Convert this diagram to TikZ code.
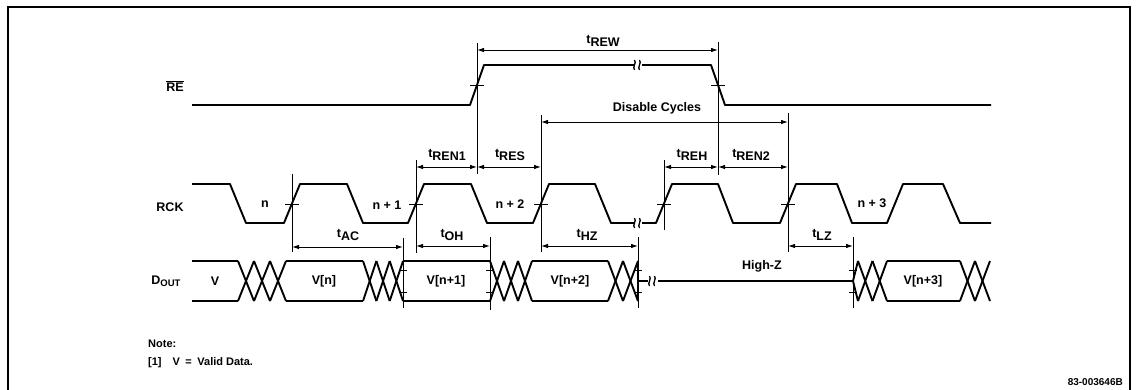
\documentclass[tikz,border=0pt]{standalone}
\usepackage{fontspec}
\setmainfont{Liberation Sans}
\usetikzlibrary{arrows.meta}
\newcommand{\tsub}[1]{t\raisebox{-0.35ex}{#1}}

\begin{document}
\begin{tikzpicture}[
  x=1pt, y=-1pt,
  sig/.style={line width=1.9pt, line join=round},
  ref/.style={line width=0.9pt},
  dim/.style={line width=0.9pt, {Latex[length=7pt,width=4.5pt]}-{Latex[length=7pt,width=4.5pt]}},
  lbl/.style={font=\fontsize{12.5}{14}\selectfont\bfseries, inner sep=0pt},
  note/.style={font=\fontsize{11}{13}\selectfont\bfseries, inner sep=0pt, anchor=west},
  brk/.pic={
    \draw[line width=1.3pt] (-3.5,-5) .. controls (-1,-2) and (-6,2) .. (-3.5,5);
    \draw[line width=1.3pt] (1.5,-5) .. controls (4,-2) and (-1,2) .. (1.5,5);
  }
]
  \useasboundingbox (0,0) rectangle (1136,390);

  % frame
  \draw[line width=1.2pt] (8,390) -- (8,7) -- (1130,7) -- (1130,390);

  % signal names
  \node[lbl] (re) at (175,86) {$\overline{\mbox{RE}}$};
  \node[lbl] (rck) at (170,207) {RCK};
  \node[lbl] (dout) at (166,281) {D\raisebox{-0.3ex}{\fontsize{9.5}{10}\selectfont OUT}};

  % RE waveform
  \draw[sig] (192,105) -- (470,105) -- (484,65) -- (634,65);
  \draw[sig] (642,65) -- (711,65) -- (725,105) -- (991,105);
  \pic at (638,65) {brk};

  % RCK waveform
  \draw[sig] (192,184) -- (230,184) -- (246,223) -- (284,223) -- (300,184)
    -- (347,184) -- (363,223) -- (408,223) -- (424,184) -- (471,184)
    -- (487,223) -- (533,223) -- (549,184) -- (595,184) -- (611,223) -- (634,223);
  \draw[sig] (642,223) -- (656,223) -- (672,184) -- (718,184) -- (733,223)
    -- (780,223) -- (796,184) -- (837,184) -- (852,223) -- (887,223)
    -- (903,184) -- (943,184) -- (960,223) -- (991,223);
  \pic at (638,223) {brk};

  % DOUT valid windows
  \foreach \xa/\xb in {192/238, 286/363, 403/490, 532/608, 887/960} {
    \draw[sig] (\xa,261) -- (\xb,261);
    \draw[sig] (\xa,301) -- (\xb,301);
  }
  % DOUT transitions
  \foreach \xa/\xb/\nx in {238/286/3, 363/403/3, 490/532/3, 608/638/2, 858/887/2, 960/990/2} {
    \pgfmathsetmacro\wx{(\xb-\xa)/\nx}
    \foreach \k in {1,...,\nx} {
      \draw[sig] ({\xa+(\k-1)*\wx},261) -- ({\xa+\k*\wx},301);
      \draw[sig] ({\xa+(\k-1)*\wx},301) -- ({\xa+\k*\wx},261);
    }
  }
  \draw[sig] (638,261) -- (638,301);
  \draw[sig] (638,281) -- (648,281);
  \pic at (653,281) {brk};
  \draw[sig] (658,281) -- (853,281);
  \draw[sig] (858,261) -- (853,281) -- (858,301);

  % reference lines
  \foreach \x/\ya/\yb in {477/43/174, 718/42/175, 292/174/252, 416/160/253,
      541/115/252, 664/160/230, 788/113/252, 403/238/308, 490/237/310,
      638/237/308, 853/237/308}
    \draw[ref] (\x,\ya) -- (\x,\yb);

  % crossing ticks
  \foreach \x/\y in {477/85, 718/85, 292/204, 416/204, 541/204, 664/204, 788/204}
    \draw[ref] (\x-7,\y) -- (\x+7,\y);
  \foreach \x in {403, 490, 638, 853} {
    \draw[ref] (\x-4,270) -- (\x+4,270);
    \draw[ref] (\x-4,292) -- (\x+4,292);
  }

  % timing arrows
  \coordinate (rew1) at (477,50);  \coordinate (rew2) at (718,50);
  \coordinate (dis1) at (541,122); \coordinate (dis2) at (788,122);
  \coordinate (ren1a) at (416,167); \coordinate (ren1b) at (477,167);
  \coordinate (res2) at (541,167);
  \coordinate (reh1) at (664,167); \coordinate (reh2) at (718,167);
  \coordinate (ren2b) at (788,167);
  \coordinate (ac1) at (292,247);  \coordinate (ac2) at (403,247);
  \coordinate (oh1) at (416,246);  \coordinate (oh2) at (490,246);
  \coordinate (hz1) at (541,246);  \coordinate (hz2) at (638,246);
  \coordinate (lz1) at (788,246);  \coordinate (lz2) at (853,246);

  \draw[dim] (rew1) -- (rew2);
  \draw[dim] (dis1) -- (dis2);
  \draw[dim] (ren1a) -- (ren1b);
  \draw[dim] (ren1b) -- (res2);
  \draw[dim] (reh1) -- (reh2);
  \draw[dim] (reh2) -- (ren2b);
  \draw[dim] (ac1) -- (ac2);
  \draw[dim] (oh1) -- (oh2);
  \draw[dim] (hz1) -- (hz2);
  \draw[dim] (lz1) -- (lz2);

  % timing labels
  \node[lbl] (trew) at (603,41) {\tsub{REW}};
  \node[lbl] (tdis) at (657,108) {Disable Cycles};
  \node[lbl] (tren1) at (447,155) {\tsub{REN1}};
  \node[lbl] (tres) at (510,155) {\tsub{RES}};
  \node[lbl] (treh) at (692,155) {\tsub{REH}};
  \node[lbl] (tren2) at (751,155) {\tsub{REN2}};
  \node[lbl] (tac) at (348,235) {\tsub{AC}};
  \node[lbl] (toh) at (452,235) {\tsub{OH}};
  \node[lbl] (thz) at (587,235) {\tsub{HZ}};
  \node[lbl] (tlz) at (822,235) {\tsub{LZ}};

  % cycle labels
  \node[lbl] (cn) at (265,204) {n};
  \node[lbl] (cn1) at (387,205) {n + 1};
  \node[lbl] (cn2) at (510,204) {n + 2};
  \node[lbl] (cn3) at (872,203) {n + 3};

  % data labels
  \node[lbl] (dv) at (215,281) {V};
  \node[lbl] (dvn) at (324,281) {V[n]};
  \node[lbl] (dvn1) at (446,281) {V[n+1]};
  \node[lbl] (dvn2) at (570,281) {V[n+2]};
  \node[lbl] (dhz) at (762,266) {High-Z};
  \node[lbl] (dvn3) at (923,281) {V[n+3]};

  % note
  \node[note] (nt) at (148,344) {Note:};
  \node[note] (nt1) at (148,363) {[1]\quad V\enspace=\enspace Valid Data.};
  \node[font=\fontsize{10}{12}\selectfont\bfseries, inner sep=0pt, anchor=east] (fig) at (1123,382) {83-003646B};
\end{tikzpicture}
\end{document}
